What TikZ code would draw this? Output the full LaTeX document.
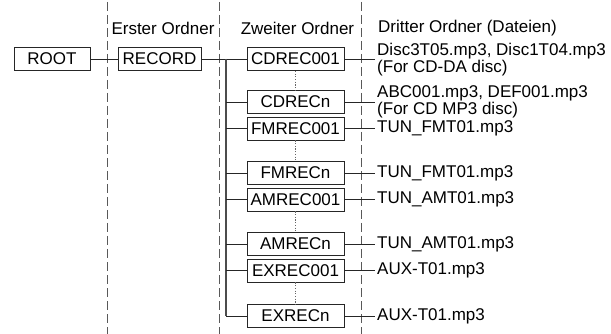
\documentclass[tikz,border=0pt]{standalone}
\usepackage{fontspec}
\setmainfont{Liberation Sans}
\begin{document}
\begin{tikzpicture}[x=1pt,y=-1pt,
  every node/.style={font=\fontsize{17}{15}\selectfont},
  box/.style={draw=black!85, line width=0.8pt, minimum height=23pt, inner sep=0pt},
  midbox/.style={box, minimum width=97pt},
  sep/.style={draw=black!65, line width=0.9pt, dash pattern=on 9pt off 4pt},
  con/.style={draw=black!85, line width=0.8pt},
  trunk/.style={draw=black!70, line width=1.1pt},
  dots/.style={draw=black!60, line width=0.8pt, dash pattern=on 1.2pt off 1.5pt},
  file/.style={anchor=west, align=left, inner xsep=2pt, inner ysep=0pt}]
\useasboundingbox (0,0) rectangle (611,334);
% separators
\coordinate (s1t) at (107,2);   \coordinate (s1b) at (107,334);
\coordinate (s2t) at (219,2);   \coordinate (s2b) at (219,334);
\coordinate (s3t) at (361.5,2); \coordinate (s3b) at (361.5,334);
\draw[sep] (s1t) -- (s1b);
\draw[sep] (s2t) -- (s2b);
\draw[sep] (s3t) -- (s3b);
% headers
\node (h1) at (163,28) {Erster Ordner};
\node (h2) at (297.5,28) {Zweiter Ordner};
\node[anchor=west, inner sep=0pt] (h3) at (378,28) {Dritter Ordner (Dateien)};
% first levels
\node[box, minimum width=76pt] (root) at (52,59) {ROOT};
\node[box, minimum width=83pt] (rec) at (159.5,59) {RECORD};
% second level
\node[midbox] (b1) at (295.5,59) {CDREC001};
\node[midbox] (b2) at (295.5,102) {CDRECn};
\node[midbox] (b3) at (295.5,128.5) {FMREC001};
\node[midbox] (b4) at (295.5,173) {FMRECn};
\node[midbox] (b5) at (295.5,199.5) {AMREC001};
\node[midbox] (b6) at (295.5,244) {AMRECn};
\node[midbox] (b7) at (295.5,270.5) {EXREC001};
\node[midbox] (b8) at (295.5,316) {EXRECn};
% files
\node[file] (f1) at (375,59.5) {Disc3T05.mp3, Disc1T04.mp3\\(For CD-DA disc)};
\node[file] (f2) at (375,101.5) {ABC001.mp3, DEF001.mp3\\(For CD MP3 disc)};
\node[file] (f3) at (375,128.5) {TUN\_FMT01.mp3};
\node[file] (f4) at (375,173) {TUN\_FMT01.mp3};
\node[file] (f5) at (375,199.5) {TUN\_AMT01.mp3};
\node[file] (f6) at (375,244) {TUN\_AMT01.mp3};
\node[file] (f7) at (375,270.5) {AUX-T01.mp3};
\node[file] (f8) at (375,316) {AUX-T01.mp3};
% connectors
\draw[con] (root) -- (rec);
\draw[con] (rec) -- (b1);
\coordinate (tt) at (226,59);
\coordinate (tb) at (226,316);
\draw[trunk] (tt) -- (tb);
\foreach \i in {2,...,8} {\draw[con] (tt |- b\i.west) -- (b\i.west);}
\foreach \i in {1,...,8} {\draw[con] (b\i.east) -- (b\i.east -| f\i.west);}
% dotted continuation
\draw[dots] (b1.south) -- (b2.north);
\draw[dots] (b3.south) -- (b4.north);
\draw[dots] (b5.south) -- (b6.north);
\draw[dots] (b7.south) -- (b8.north);
\end{tikzpicture}
\end{document}
